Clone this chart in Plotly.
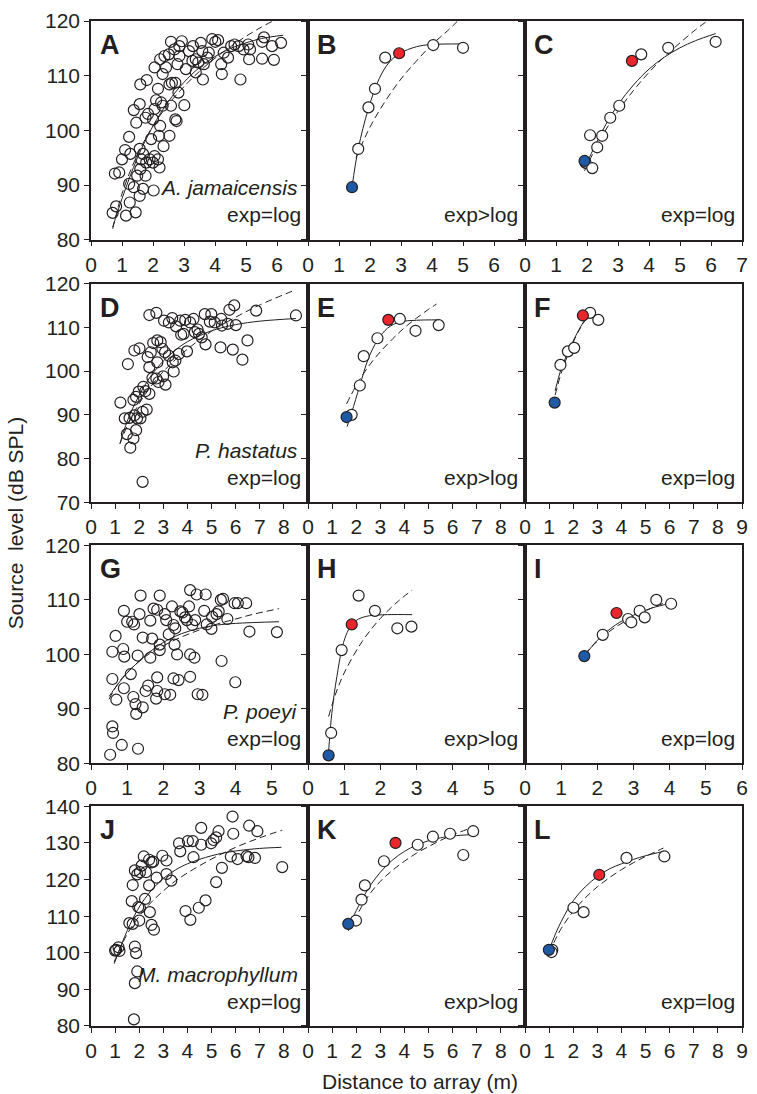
import plotly.graph_objects as go

# ---------------- data ----------------
A_PTS = [(0.70,84.9),(0.81,86.1),(1.13,84.4),(1.44,85.0),(1.25,86.8),(0.77,92.1),(0.91,92.3),(1.00,94.7),
         (1.10,96.4),(1.23,98.8),(1.27,95.7),(1.23,90.2),(1.38,89.6),(1.49,91.7),(1.59,92.9),(1.57,88.0),
         (1.68,89.3),(1.76,91.7),(1.57,96.6),(1.68,95.7),(1.62,94.7),(1.78,94.1),(1.89,94.7),(2.00,94.1),
         (2.05,95.3),(2.16,94.7),(2.02,89.0),(2.21,93.2),(2.34,97.1),(2.53,99.0),(2.19,99.0),(2.23,100.8),
         (2.00,102.0),(1.76,102.3),(1.46,101.4),(1.57,104.8),(1.38,103.7),(1.94,98.4),(1.84,103.0),(2.05,103.9),
         (2.31,104.5),(2.26,105.1),(2.58,104.5),(2.72,102.0),(2.76,101.7),(3.01,104.6),(2.10,105.5),(1.59,108.4),
         (1.80,109.2),(2.16,107.6),(2.05,111.5),(2.23,113.0),(2.31,110.3),(2.42,111.5),(2.53,108.4),(2.61,108.7),
         (2.72,108.7),(2.82,106.9),(2.58,116.2),(2.37,113.6),(2.51,113.9),(2.69,114.8),(2.85,115.4),(2.93,116.3),
         (2.85,113.6),(2.79,112.1),(3.06,111.2),(3.16,114.5),(3.29,115.4),(3.38,113.0),(3.27,112.7),(3.46,112.4),
         (3.54,116.0),(3.59,114.5),(3.64,112.1),(3.61,109.3),(3.38,110.6),(3.75,113.3),(3.80,114.2),(3.91,116.7),
         (4.01,116.2),(4.10,116.5),(4.20,112.1),(4.22,110.3),(4.28,114.2),(4.42,113.3),(4.52,115.4),(4.63,115.7),
         (4.76,115.4),(4.82,109.3),(4.92,114.8),(5.07,115.7),(5.10,113.0),(5.52,113.1),(5.52,116.2),(5.13,114.8),
         (5.58,117.0),(5.84,115.4),(6.13,116.0),(5.90,112.9)]
A_EXP = [(0.7,82.3),(1.0,87.5),(1.5,95.0),(2.0,100.8),(2.5,105.3),(3.0,108.8),(3.5,111.5),(4.0,113.5),
         (4.5,115.0),(5.0,116.0),(5.5,116.8),(6.2,117.4)]
A_LOG = [(0.7,82.0),(1.0,88.4),(1.5,95.6),(2.0,100.8),(2.5,104.8),(3.0,108.0),(3.5,110.8),(4.0,113.2),
         (4.5,115.3),(5.0,117.2),(5.5,118.9),(5.87,120.0)]

B_PTS = [(1.62,96.6),(1.95,104.2),(2.16,107.6),(2.49,113.3),(4.04,115.6),(5.00,115.1)]
B_BLUE = (1.42,89.6)
B_RED = (2.94,114.1)
B_EXP = [(1.42,89.6),(1.62,96.6),(1.95,104.0),(2.3,109.5),(2.6,112.3),(2.94,114.0),(3.5,115.3),(4.0,115.7),(5.0,115.8)]
B_LOG = [(1.55,95.0),(2.0,100.6),(2.5,105.4),(3.0,109.4),(3.5,112.7),(4.0,115.7),(4.5,118.2),(4.81,119.9)]

C_PTS = [(1.95,94.1),(2.17,93.1),(2.10,99.1),(2.49,99.0),(2.33,96.9),(2.75,102.3),(3.04,104.5),
         (3.75,113.9),(4.62,115.1),(6.15,116.2)]
C_BLUE = (1.92,94.4)
C_RED = (3.45,112.7)
C_EXP = [(1.9,92.9),(2.2,96.5),(2.6,101.0),(3.0,104.7),(3.5,108.3),(4.0,111.2),(4.5,113.4),(5.0,115.1),
         (5.5,116.4),(6.15,117.7)]
C_LOG = [(1.92,92.6),(2.5,99.1),(3.0,103.5),(3.5,107.3),(4.0,110.6),(4.5,113.5),(5.0,116.0),(5.5,118.4),(5.88,120.0)]

D_PTS = [(1.22,92.8),(1.40,89.2),(1.49,85.6),(1.63,82.5),(1.76,84.6),(1.87,86.5),(1.53,101.6),(1.80,104.7),
         (2.01,105.2),(1.60,89.3),(1.80,89.9),(1.91,89.2),(2.05,89.2),(1.76,93.4),(1.87,94.1),(1.98,95.3),
         (2.17,96.4),(2.25,95.4),(2.42,94.8),(2.31,91.2),(2.14,90.7),(2.14,74.7),(2.35,103.2),(2.42,100.9),
         (2.48,104.3),(2.55,98.4),(2.71,98.3),(2.80,97.5),(2.99,98.8),(3.09,96.9),(2.75,102.0),(2.58,106.4),
         (2.75,107.0),(2.89,106.6),(2.96,105.1),(3.07,104.3),(3.23,103.5),(3.39,102.0),(3.43,99.9),(3.50,102.4),
         (3.64,103.9),(3.74,108.3),(3.84,108.5),(3.98,104.5),(2.42,112.8),(2.71,113.3),(3.03,111.5),(3.23,111.1),
         (3.37,112.1),(3.53,110.2),(3.70,111.5),(3.91,111.7),(4.11,111.1),(4.25,111.9),(4.31,108.9),(4.42,109.5),
         (4.48,108.5),(4.59,107.7),(4.72,113.0),(4.75,106.1),(4.93,111.3),(4.99,113.0),(5.13,111.1),(5.40,111.9),
         (5.37,105.4),(5.43,110.4),(5.67,110.8),(5.74,114.0),(5.94,115.0),(5.88,104.9),(6.01,110.5),(6.28,102.6),
         (6.49,107.0),(6.85,113.8),(8.50,112.7)]
D_EXP = [(1.2,83.4),(1.5,88.5),(2.0,94.5),(2.5,99.0),(3.0,102.3),(3.5,104.8),(4.0,106.7),(5.0,109.2),
         (6.0,110.6),(7.0,111.4),(8.5,112.0)]
D_LOG = [(1.2,83.4),(1.5,87.4),(2.0,92.6),(2.5,96.6),(3.0,99.9),(3.5,102.6),(4.0,105.0),(5.0,109.1),
         (6.0,112.3),(7.0,115.1),(8.5,118.6)]

E_PTS = [(1.81,90.0),(2.15,96.7),(2.31,103.4),(2.88,107.5),(3.81,111.9),(4.46,109.2),(5.42,110.5)]
E_BLUE = (1.60,89.5)
E_RED = (3.33,111.7)
E_EXP = [(1.62,87.3),(1.81,90.5),(2.15,96.7),(2.5,102.8),(2.88,107.0),(3.3,109.8),(3.8,111.2),(4.5,111.6),(5.42,111.7)]
E_LOG = [(1.6,92.5),(2.0,96.7),(2.5,101.0),(3.0,104.4),(3.5,107.3),(4.0,109.9),(4.5,112.1),(5.0,114.1),(5.33,115.3)]

F_PTS = [(1.47,101.4),(1.78,104.5),(2.04,105.3),(2.70,113.3),(3.04,111.7)]
F_BLUE = (1.23,92.8)
F_RED = (2.40,112.7)
F_EXP = [(1.25,95.5),(1.5,100.5),(1.8,104.5),(2.1,108.0),(2.4,111.0),(2.8,114.0)]
F_LOG = [(1.25,94.5),(1.5,99.5),(1.8,104.0),(2.1,107.8),(2.4,110.8),(2.85,114.3)]

G_PTS = [(0.53,81.6),(0.59,86.8),(0.61,85.6),(0.85,83.4),(1.30,82.7),(0.59,95.5),(0.59,100.5),(0.68,103.4),
         (0.70,91.7),(0.91,108.0),(0.89,101.0),(0.92,99.6),(0.91,93.8),(1.10,96.4),(1.00,106.0),(1.14,106.0),
         (1.19,105.5),(1.17,92.2),(1.23,90.9),(1.25,89.1),(1.29,99.8),(1.37,110.8),(1.34,107.4),(1.43,103.1),
         (1.43,90.3),(1.51,93.3),(1.58,94.3),(1.64,99.4),(1.64,106.2),(1.69,102.9),(1.73,108.4),(1.80,91.9),
         (1.83,93.3),(1.83,95.8),(1.90,110.8),(1.83,108.2),(1.90,100.8),(1.90,101.8),(2.04,107.4),(2.08,106.3),
         (2.04,92.7),(2.19,92.6),(2.15,103.7),(2.24,108.8),(2.28,105.4),(2.33,104.8),(2.31,101.8),(2.38,100.0),
         (2.28,95.6),(2.42,95.3),(2.47,107.9),(2.53,107.7),(2.60,106.8),(2.65,106.3),(2.71,108.8),(2.74,111.8),
         (2.74,100.0),(2.74,95.9),(2.86,99.4),(2.80,105.4),(2.88,106.3),(2.92,111.0),(2.95,92.7),(3.08,92.6),
         (3.13,108.0),(3.17,111.0),(3.20,105.5),(3.33,104.7),(3.35,106.9),(3.47,107.4),(3.53,107.9),(3.59,110.0),
         (3.65,110.2),(3.61,98.8),(3.77,106.5),(3.97,109.4),(4.06,109.4),(4.29,109.4),(3.99,94.9),(4.38,104.2),
         (5.14,104.1)]
G_EXP = [(0.5,92.3),(0.75,94.6),(1.0,96.6),(1.5,99.8),(2.0,102.2),(2.5,103.8),(3.0,104.8),(3.5,105.4),
         (4.0,105.7),(5.2,106.0)]
G_LOG = [(0.5,91.8),(0.75,94.7),(1.0,96.7),(1.5,99.6),(2.0,101.6),(2.5,103.2),(3.0,104.5),(3.5,105.6),
         (4.0,106.5),(4.5,107.4),(5.2,108.4)]

H_PTS = [(0.64,85.6),(0.93,100.8),(1.40,110.8),(1.85,108.0),(2.47,104.8),(2.86,105.1)]
H_BLUE = (0.57,81.5)
H_RED = (1.21,105.5)
H_EXP = [(0.57,82.2),(0.64,88.0),(0.72,92.5),(0.8,96.0),(0.93,100.8),(1.05,103.5),(1.21,105.5),(1.4,106.5),
         (1.7,107.1),(2.2,107.3),(2.88,107.3)]
H_LOG = [(0.57,88.6),(0.75,92.5),(1.0,96.6),(1.5,102.4),(2.0,106.6),(2.5,109.8),(2.88,111.8)]

I_PTS = [(2.15,103.6),(2.85,106.5),(2.94,105.9),(3.17,108.0),(3.31,106.8),(3.63,110.0),(4.04,109.3)]
I_BLUE = (1.64,99.7)
I_RED = (2.53,107.6)
I_EXP = [(1.64,99.7),(2.0,102.6),(2.5,105.4),(3.0,107.2),(3.5,108.5),(4.04,109.4)]
I_LOG = [(1.64,100.0),(2.0,102.4),(2.5,105.0),(3.0,106.9),(3.5,108.5),(4.04,109.9)]

J_PTS = [(1.04,100.8),(1.14,101.5),(1.18,100.5),(1.00,100.6),(1.78,81.8),(1.82,91.7),(1.92,94.9),(1.82,101.7),
         (1.87,99.9),(1.59,108.1),(1.73,107.9),(2.00,108.8),(1.69,114.1),(1.73,118.5),(1.96,112.5),(2.03,112.3),
         (2.24,114.7),(1.82,122.5),(1.92,121.4),(2.10,123.8),(2.19,126.3),(2.03,122.0),(2.28,122.0),(2.41,125.4),
         (2.51,124.7),(2.58,124.9),(2.41,118.4),(2.72,120.5),(2.44,111.1),(2.51,107.6),(2.61,106.3),(2.96,126.5),
         (3.13,125.2),(3.13,121.5),(3.33,119.7),(3.65,129.9),(3.70,127.7),(4.02,130.5),(4.22,130.5),(4.25,126.1),
         (3.92,111.4),(4.12,109.0),(4.47,112.3),(4.57,134.1),(4.57,129.5),(4.75,114.3),(4.98,129.9),(5.08,130.8),
         (5.19,131.5),(5.29,133.2),(5.19,119.3),(5.43,123.2),(5.87,137.2),(5.90,132.5),(5.80,126.3),(6.08,125.6),
         (6.45,126.4),(6.56,134.7),(6.53,126.1),(6.80,125.9),(6.90,133.2),(7.93,123.4)]
J_EXP = [(0.96,97.0),(1.5,106.0),(2.0,112.5),(2.5,117.0),(3.0,120.3),(3.5,122.6),(4.0,124.3),(5.0,126.5),
         (6.0,127.8),(7.0,128.5),(7.9,128.8)]
J_LOG = [(0.96,97.5),(1.5,105.1),(2.0,110.0),(2.5,113.8),(3.0,116.9),(3.5,119.6),(4.0,121.8),(5.0,125.6),
         (6.0,128.8),(7.0,131.4),(7.93,133.5)]

K_PTS = [(1.99,108.8),(2.22,114.5),(2.36,118.4),(3.15,125.0),(4.55,129.5),(5.18,131.7),(5.89,132.5),
         (6.44,126.7),(6.85,133.2)]
K_BLUE = (1.67,107.9)
K_RED = (3.63,130.0)
K_EXP = [(1.65,106.5),(2.0,111.5),(2.5,117.5),(3.0,122.0),(3.5,125.3),(4.0,127.7),(4.5,129.4),(5.0,130.6),
         (5.5,131.4),(6.0,131.9),(6.85,132.3)]
K_LOG = [(1.67,106.0),(2.0,110.0),(2.5,115.5),(3.0,119.5),(3.5,122.5),(4.0,125.0),(4.5,127.2),(5.0,129.0),
         (5.5,130.7),(6.0,132.2),(6.85,134.3)]

L_PTS = [(1.13,100.8),(1.10,100.2),(2.01,112.3),(2.43,111.1),(4.21,125.9),(5.78,126.3)]
L_BLUE = (0.99,100.8)
L_RED = (3.08,121.3)
L_EXP = [(1.0,100.5),(1.13,103.0),(1.5,108.5),(2.0,114.2),(2.5,118.0),(3.0,120.8),(3.5,122.9),(4.0,124.3),
         (4.5,125.5),(5.0,126.5),(5.75,127.7)]
L_LOG = [(1.0,100.0),(1.5,106.6),(2.0,111.3),(2.5,115.0),(3.0,118.0),(3.5,120.5),(4.0,122.7),(4.5,124.6),
         (5.0,126.3),(5.74,128.6)]

# axis ticks / ranges
ROW_YRANGE = [(80, 120), (70, 120), (80, 120), (80, 140)]
ROW_YTICKS = [[80, 90, 100, 110, 120], [70, 80, 90, 100, 110, 120],
              [80, 90, 100, 110, 120], [80, 90, 100, 110, 120, 130, 140]]
ROW_XMAX = [7, 9, 6, 9]
XTICKS = {
    "A": [0, 1, 2, 3, 4, 5, 6], "B": [0, 1, 2, 3, 4, 5, 6], "C": [0, 1, 2, 3, 4, 5, 6, 7],
    "D": [0, 1, 2, 3, 4, 5, 6, 7, 8], "E": [0, 1, 2, 3, 4, 5, 6, 7, 8], "F": [0, 1, 2, 3, 4, 5, 6, 7, 8, 9],
    "G": [0, 1, 2, 3, 4, 5], "H": [0, 1, 2, 3, 4, 5], "I": [0, 1, 2, 3, 4, 5, 6],
    "J": [0, 1, 2, 3, 4, 5, 6, 7, 8], "K": [0, 1, 2, 3, 4, 5, 6, 7, 8], "L": [0, 1, 2, 3, 4, 5, 6, 7, 8, 9],
}
SPECIES = ["A. jamaicensis", "P. hastatus", "P. poeyi", "M. macrophyllum"]
RELATION = {"A": "exp=log", "B": "exp>log", "C": "exp=log", "D": "exp=log", "E": "exp>log", "F": "exp=log",
            "G": "exp=log", "H": "exp>log", "I": "exp=log", "J": "exp=log", "K": "exp>log", "L": "exp=log"}

PANELS = [
    ("A", A_PTS, A_EXP, A_LOG, None, None), ("B", B_PTS, B_EXP, B_LOG, B_BLUE, B_RED),
    ("C", C_PTS, C_EXP, C_LOG, C_BLUE, C_RED), ("D", D_PTS, D_EXP, D_LOG, None, None),
    ("E", E_PTS, E_EXP, E_LOG, E_BLUE, E_RED), ("F", F_PTS, F_EXP, F_LOG, F_BLUE, F_RED),
    ("G", G_PTS, G_EXP, G_LOG, None, None), ("H", H_PTS, H_EXP, H_LOG, H_BLUE, H_RED),
    ("I", I_PTS, I_EXP, I_LOG, I_BLUE, I_RED), ("J", J_PTS, J_EXP, J_LOG, None, None),
    ("K", K_PTS, K_EXP, K_LOG, K_BLUE, K_RED), ("L", L_PTS, L_EXP, L_LOG, L_BLUE, L_RED),
]

# ---------------- styling / layout ----------------
INK = "#231f20"
RED = "#e8262b"
BLUE = "#1f5aa6"
FONT = "Liberation Sans, Arial, sans-serif"
COL_DOM = [(0.0, 1 / 3), (1 / 3, 2 / 3), (2 / 3, 1.0)]
ROW_DOM = [(0.7824, 1.0), (0.5210, 0.7388), (0.2612, 0.4782), (0.0, 0.2186)]

fig = go.Figure()
layout = {}
annotations = []

for i, (letter, pts, exp_c, log_c, blue, red) in enumerate(PANELS):
    r, c = divmod(i, 3)
    n = i + 1
    xa = "x" if n == 1 else f"x{n}"
    ya = "y" if n == 1 else f"y{n}"
    big = blue is None

    def line(curve, dash):
        return go.Scatter(x=[p[0] for p in curve], y=[p[1] for p in curve], mode="lines",
                          line=dict(color=INK, width=1, dash=dash, shape="spline", smoothing=1),
                          xaxis=xa, yaxis=ya, hoverinfo="skip")

    pts_trace = go.Scatter(
        x=[p[0] for p in pts], y=[p[1] for p in pts], mode="markers",
        marker=dict(symbol="circle-open" if big else "circle", size=11,
                    color=INK if big else "white", line=dict(color=INK, width=1.2)),
        xaxis=xa, yaxis=ya)
    if big:
        fig.add_trace(pts_trace)
        fig.add_trace(line(exp_c, "solid"))
        fig.add_trace(line(log_c, "7px,4px"))
    else:
        fig.add_trace(line(exp_c, "solid"))
        fig.add_trace(line(log_c, "7px,4px"))
        fig.add_trace(pts_trace)
        for pt, col in ((blue, BLUE), (red, RED)):
            fig.add_trace(go.Scatter(x=[pt[0]], y=[pt[1]], mode="markers",
                                     marker=dict(symbol="circle", size=11, color=col,
                                                 line=dict(color=INK, width=1.2)),
                                     xaxis=xa, yaxis=ya))

    common = dict(showline=True, linecolor=INK, linewidth=1.6, mirror=True, ticks="outside",
                  ticklen=5, tickwidth=1.2, tickcolor=INK, showgrid=False, zeroline=False,
                  tickfont=dict(family=FONT, size=21, color=INK))
    layout["xaxis" if n == 1 else f"xaxis{n}"] = dict(
        common, domain=list(COL_DOM[c]), anchor=ya, range=[0, ROW_XMAX[r]],
        tickmode="array", tickvals=XTICKS[letter], ticktext=[str(v) for v in XTICKS[letter]])
    layout["yaxis" if n == 1 else f"yaxis{n}"] = dict(
        common, domain=list(ROW_DOM[r]), anchor=xa, range=list(ROW_YRANGE[r]),
        tickmode="array", tickvals=ROW_YTICKS[r], showticklabels=(c == 0))

    xd = f"{xa} domain"
    yd = f"{ya} domain"
    annotations.append(dict(text=f"<b>{letter}</b>", xref=xd, yref=yd, x=0, y=1, xanchor="left",
                            yanchor="middle", xshift=7, yshift=-24, showarrow=False,
                            font=dict(family=FONT, size=27, color=INK)))
    annotations.append(dict(text=RELATION[letter], xref=xd, yref=yd, x=1, y=0, xanchor="right",
                            yanchor="middle", xshift=-5, yshift=25, showarrow=False,
                            font=dict(family=FONT, size=21, color=INK)))
    if c == 0:
        annotations.append(dict(text=f"<i>{SPECIES[r]}</i>", xref=xd, yref=yd, x=1, y=0, xanchor="right",
                                yanchor="middle", xshift=-8, yshift=52, showarrow=False,
                                font=dict(family=FONT, size=21, color=INK)))

annotations.append(dict(text="Source  level (dB SPL)", xref="paper", yref="paper", x=-0.1157, y=0.5,
                        textangle=-90, xanchor="center", yanchor="middle", showarrow=False,
                        font=dict(family=FONT, size=21, color=INK)))
annotations.append(dict(text="Distance to array (m)", xref="paper", yref="paper", x=0.505, y=-0.0556,
                        xanchor="center", yanchor="middle", showarrow=False,
                        font=dict(family=FONT, size=21, color=INK)))

fig.update_layout(width=757, height=1094, margin=dict(l=91, r=9, t=18, b=68),
                  plot_bgcolor="white", paper_bgcolor="white", showlegend=False,
                  font=dict(family=FONT, color=INK), annotations=annotations, **layout)
fig.write_html("out.html", config={"displayModeBar": False},
               post_script="document.body.style.margin='0px';document.body.style.padding='0px';")
